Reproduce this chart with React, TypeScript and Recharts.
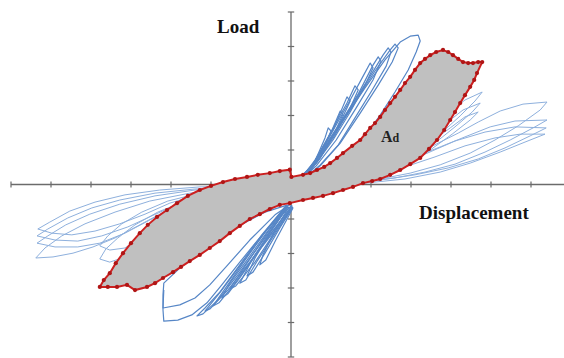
import { ComposedChart, Polygon, ReferenceLine, Scatter, XAxis, YAxis } from "recharts";

type Pt = [number, number];

// axis units: 1 x-tick = 1, 1 y-tick = 1
const xTicks = [-7, -6, -5, -4, -3, -2, -1, 1, 2, 3, 4, 5, 6];
const yTicks = [-5, -4, -3, -2, -1, 1, 2, 3, 4, 5];

// steep loops, upper right
const steepPos1: Pt[] = [[0.15, 0.13], [0.48, 0.48], [0.85, 1.06], [1.35, 1.93], [1.85, 2.8], [2.35, 3.61], [2.73, 4.13], [2.98, 4.3], [3.18, 4.33], [3.23, 4.16], [3.13, 3.84], [2.93, 3.32], [2.6, 2.68], [2.23, 2.01], [1.78, 1.29], [1.35, 0.71], [0.98, 0.36], [0.6, 0.16], [0.23, 0.07]];
const steepPos2: Pt[] = [[0.18, 0.13], [0.53, 0.57], [0.98, 1.35], [1.48, 2.22], [1.98, 3.14], [2.3, 3.75], [2.43, 3.96], [2.5, 3.84], [2.38, 3.43], [2.03, 2.74], [1.6, 1.93], [1.18, 1.14], [0.73, 0.57], [0.35, 0.19]];
const steepPos3: Pt[] = [[0.2, 0.13], [0.58, 0.65], [1.03, 1.52], [1.48, 2.45], [1.83, 3.2], [1.98, 3.52], [2.05, 3.38], [1.85, 2.88], [1.48, 2.1], [1.05, 1.29], [0.63, 0.62], [0.28, 0.16]];
const steepPos4: Pt[] = [[0.23, 0.13], [0.6, 0.71], [1.03, 1.58], [1.4, 2.36], [1.6, 2.86], [1.68, 2.74], [1.48, 2.22], [1.1, 1.43], [0.68, 0.71], [0.3, 0.16]];
const steepPos5: Pt[] = [[0.25, 0.1], [0.6, 0.65], [0.98, 1.46], [1.23, 2.13], [1.3, 2.04], [1.1, 1.52], [0.73, 0.77], [0.35, 0.19]];
const steepPos6: Pt[] = [[0.28, 0.1], [0.58, 0.62], [0.85, 1.35], [0.93, 1.64], [1.0, 1.55], [0.85, 1.14], [0.55, 0.57], [0.33, 0.16]];
const steepPos7: Pt[] = [[0.18, 0.1], [0.6, 0.62], [1.1, 1.49], [1.6, 2.39], [2.1, 3.29], [2.48, 3.9], [2.6, 4.07], [2.68, 3.96], [2.53, 3.55], [2.18, 2.88], [1.73, 2.07], [1.23, 1.2], [0.73, 0.54], [0.3, 0.16]];
const steepPos8: Pt[] = [[0.2, 0.1], [0.68, 0.77], [1.18, 1.67], [1.68, 2.62], [2.05, 3.46], [2.18, 3.7], [2.25, 3.58], [2.05, 3.03], [1.63, 2.22], [1.13, 1.29], [0.63, 0.54], [0.25, 0.13]];
const steepPos9: Pt[] = [[0.23, 0.1], [0.63, 0.71], [1.05, 1.58], [1.4, 2.54], [1.48, 2.42], [1.18, 1.67], [0.73, 0.77], [0.3, 0.16]];

// steep loops, lower left
const steepNeg1: Pt[] = [[-0.08, -0.59], [-0.4, -1.03], [-0.83, -1.61], [-1.28, -2.25], [-1.73, -2.91], [-2.1, -3.43], [-2.48, -3.78], [-2.83, -3.93], [-3.18, -3.96], [-3.2, -3.64], [-3.2, -3.2], [-3.18, -2.86], [-2.78, -2.42], [-2.15, -1.84], [-1.4, -1.26], [-0.65, -0.8], [-0.08, -0.59]];
const steepNeg2: Pt[] = [[-3.18, -3.06], [-3.2, -3.58], [-2.78, -3.49], [-2.4, -3.29], [-2.03, -2.91], [-1.58, -2.33], [-1.03, -1.61], [-0.4, -0.88], [-0.03, -0.59]];
const steepNeg3: Pt[] = [[-0.15, -0.65], [-0.73, -1.46], [-1.28, -2.33], [-1.78, -3.12], [-2.15, -3.58], [-2.35, -3.81], [-2.2, -3.75], [-1.83, -3.35], [-1.33, -2.62], [-0.78, -1.75], [-0.23, -0.88], [0.03, -0.59]];
const steepNeg4: Pt[] = [[-0.13, -0.65], [-0.65, -1.38], [-1.15, -2.19], [-1.58, -2.91], [-1.95, -3.52], [-1.8, -3.43], [-1.43, -2.91], [-0.98, -2.19], [-0.48, -1.38], [0.03, -0.62]];
const steepNeg5: Pt[] = [[-0.1, -0.65], [-0.58, -1.38], [-1.08, -2.25], [-1.53, -3.03], [-1.38, -2.94], [-0.9, -2.25], [-0.43, -1.43], [0.03, -0.65]];
const steepNeg6: Pt[] = [[-0.08, -0.65], [-0.53, -1.41], [-0.9, -2.13], [-1.1, -2.65], [-0.95, -2.54], [-0.65, -1.99], [-0.28, -1.26], [0.05, -0.65]];
const steepNeg7: Pt[] = [[-0.05, -0.65], [-0.4, -1.32], [-0.7, -2.04], [-0.78, -2.33], [-0.63, -2.19], [-0.38, -1.61], [0.05, -0.68]];
const steepNeg8: Pt[] = [[-0.13, -0.62], [-0.68, -1.43], [-1.23, -2.28], [-1.73, -3.06], [-2.15, -3.67], [-2.03, -3.61], [-1.58, -3.06], [-1.03, -2.25], [-0.5, -1.43], [0, -0.65]];
const steepNeg9: Pt[] = [[-0.1, -0.62], [-0.6, -1.38], [-1.1, -2.19], [-1.53, -2.86], [-1.73, -3.29], [-1.58, -3.17], [-1.28, -2.71], [-0.83, -1.96], [-0.35, -1.26], [0.03, -0.65]];
const steepNeg10: Pt[] = [[-0.08, -0.65], [-0.53, -1.38], [-0.95, -2.13], [-1.28, -2.86], [-1.13, -2.77], [-0.83, -2.19], [-0.4, -1.43], [0.03, -0.68]];

// wide loops, upper right
const widePos1: Pt[] = [[0.23, 0.04], [0.98, 0.07], [1.73, 0.25], [2.48, 0.54], [3.1, 0.86], [3.68, 1.2], [4.18, 1.49], [4.68, 1.81], [5.23, 2.13], [5.8, 2.33], [6.4, 2.39], [6.23, 2.16], [5.68, 1.7], [5.1, 1.29], [4.48, 0.91], [3.73, 0.57], [2.98, 0.33], [2.23, 0.16], [1.48, 0.04], [0.73, 0.01]];
const widePos2: Pt[] = [[0.48, 0.04], [1.48, 0.19], [2.35, 0.48], [3.1, 0.8], [3.73, 1.09], [4.35, 1.38], [4.98, 1.67], [5.6, 1.84], [6.4, 1.87], [6.1, 1.67], [5.48, 1.29], [4.85, 0.94], [4.1, 0.59], [3.35, 0.36], [2.6, 0.19], [1.73, 0.07], [0.98, 0.01]];
const widePos3: Pt[] = [[0.73, 0.04], [1.73, 0.22], [2.6, 0.54], [3.35, 0.88], [4.1, 1.26], [4.85, 1.52], [5.6, 1.67], [6.38, 1.64], [5.98, 1.41], [5.35, 1.06], [4.68, 0.74], [3.93, 0.48], [3.1, 0.28], [2.23, 0.13], [1.23, 0.01]];
const widePos4: Pt[] = [[0.98, 0.04], [1.98, 0.22], [2.85, 0.51], [3.6, 0.8], [4.35, 1.12], [5.1, 1.35], [5.73, 1.46], [6.35, 1.46], [5.85, 1.23], [5.23, 0.94], [4.48, 0.62], [3.73, 0.36], [2.85, 0.16], [1.85, 0.04]];
const widePos5: Pt[] = [[0.48, 0.07], [1.23, 0.25], [1.98, 0.59], [2.73, 1.06], [3.35, 1.58], [3.93, 2.07], [4.35, 2.45], [4.78, 2.68], [4.6, 2.42], [4.23, 1.99], [3.73, 1.46], [3.18, 1.0], [2.6, 0.62], [1.98, 0.33], [1.23, 0.1]];
const widePos6: Pt[] = [[0.73, 0.07], [1.6, 0.3], [2.48, 0.71], [3.23, 1.23], [3.85, 1.75], [4.3, 2.16], [4.73, 2.36], [4.53, 2.1], [4.1, 1.67], [3.53, 1.14], [2.85, 0.68], [2.1, 0.3], [1.23, 0.07]];
const widePos7: Pt[] = [[0.98, 0.04], [1.85, 0.28], [2.73, 0.71], [3.43, 1.17], [3.98, 1.64], [4.35, 1.96], [4.68, 2.1], [4.48, 1.87], [4.03, 1.46], [3.48, 1.0], [2.78, 0.57], [1.98, 0.22], [1.35, 0.04]];

// wide loops, lower left
const wideNeg1: Pt[] = [[-1.4, -0.1], [-2.15, -0.25], [-2.78, -0.51], [-3.28, -0.86], [-3.83, -1.2], [-4.4, -1.55], [-4.95, -1.81], [-5.45, -1.99], [-5.95, -2.1], [-6.38, -2.13], [-6.15, -1.84], [-5.73, -1.49], [-5.15, -1.14], [-4.4, -0.8], [-3.53, -0.48], [-2.53, -0.25], [-1.53, -0.1], [-0.53, -0.04]];
const wideNeg2: Pt[] = [[-1.28, -0.1], [-2.28, -0.28], [-3.03, -0.54], [-3.65, -0.86], [-4.28, -1.14], [-4.9, -1.35], [-5.48, -1.46], [-5.98, -1.41], [-6.33, -1.29], [-6.03, -1.09], [-5.53, -0.77], [-4.9, -0.51], [-4.15, -0.3], [-3.28, -0.16], [-2.28, -0.07], [-1.03, -0.04]];
const wideNeg3: Pt[] = [[-1.03, -0.1], [-2.03, -0.28], [-2.83, -0.57], [-3.48, -0.91], [-4.08, -1.23], [-4.73, -1.49], [-5.33, -1.64], [-5.9, -1.61], [-6.35, -1.49], [-6.08, -1.29], [-5.58, -0.97], [-4.98, -0.68], [-4.28, -0.45], [-3.4, -0.25], [-2.4, -0.13], [-1.28, -0.07]];
const wideNeg4: Pt[] = [[-1.15, -0.13], [-2.15, -0.33], [-2.9, -0.65], [-3.53, -1.03], [-4.15, -1.41], [-4.78, -1.7], [-5.33, -1.81], [-5.9, -1.81], [-6.35, -1.7], [-6.08, -1.49], [-5.63, -1.17], [-5.03, -0.86], [-4.28, -0.57], [-3.4, -0.33], [-2.4, -0.16], [-1.28, -0.07]];
const wideNeg5: Pt[] = [[-0.78, -0.1], [-1.9, -0.33], [-2.65, -0.68], [-3.28, -1.14], [-3.78, -1.55], [-4.15, -1.84], [-4.53, -1.9], [-4.78, -1.78], [-4.58, -1.49], [-4.23, -1.14], [-3.73, -0.8], [-3.08, -0.48], [-2.28, -0.25], [-1.28, -0.1], [-0.28, -0.04]];
const wideNeg6: Pt[] = [[-0.4, -0.13], [-1.53, -0.36], [-2.4, -0.74], [-3.15, -1.26], [-3.78, -1.75], [-4.23, -2.13], [-4.53, -2.25], [-4.78, -2.16], [-4.63, -1.87], [-4.33, -1.55], [-3.9, -1.17], [-3.33, -0.8], [-2.65, -0.48], [-1.78, -0.25], [-0.65, -0.1]];

// dissipated energy envelope (A_d)
const envelope: Pt[] = [
  [-4.78, -2.97], [-4.68, -2.77], [-4.53, -2.57], [-4.38, -2.28], [-4.2, -1.99], [-4.0, -1.7], [-3.78, -1.41], [-3.58, -1.17], [-3.35, -0.94], [-3.1, -0.74], [-2.85, -0.54], [-2.58, -0.33], [-2.28, -0.16], [-2.0, -0.04], [-1.7, 0.07], [-1.4, 0.16], [-1.1, 0.22], [-0.83, 0.28], [-0.53, 0.33], [-0.28, 0.39], [-0.03, 0.43],
  [0.01, 0.22], [0.3, 0.28], [0.48, 0.33], [0.65, 0.42], [0.83, 0.51], [0.98, 0.62], [1.15, 0.77], [1.3, 0.91], [1.53, 1.12], [1.73, 1.29], [1.85, 1.46], [1.98, 1.64], [2.1, 1.78], [2.23, 1.96], [2.35, 2.16], [2.48, 2.36], [2.6, 2.54], [2.73, 2.74], [2.85, 2.94], [2.98, 3.12], [3.1, 3.32], [3.23, 3.52], [3.35, 3.64], [3.48, 3.75], [3.63, 3.84], [3.8, 3.9], [3.93, 3.84], [4.05, 3.75], [4.18, 3.64], [4.3, 3.55], [4.43, 3.52], [4.55, 3.52], [4.68, 3.55], [4.78, 3.55],
  [4.65, 3.23], [4.58, 3.03], [4.48, 2.83], [4.35, 2.59], [4.23, 2.36], [4.1, 2.1], [3.98, 1.87], [3.83, 1.58], [3.65, 1.29], [3.45, 1.03], [3.23, 0.77], [2.98, 0.59], [2.73, 0.42], [2.48, 0.28], [2.23, 0.16], [2.03, 0.1], [1.8, 0.04], [1.55, -0.07], [1.3, -0.16], [1.05, -0.25], [0.8, -0.33], [0.55, -0.39], [0.3, -0.45], [-0.03, -0.54],
  [-0.28, -0.59], [-0.53, -0.71], [-0.78, -0.86], [-1.03, -1.0], [-1.28, -1.2], [-1.53, -1.41], [-1.78, -1.64], [-2.03, -1.84], [-2.28, -2.04], [-2.53, -2.22], [-2.75, -2.39], [-2.95, -2.54], [-3.2, -2.71], [-3.4, -2.86], [-3.6, -2.97], [-3.9, -3.06], [-4.1, -2.91], [-4.35, -2.97], [-4.58, -2.97],
];

const steepLoops = [steepPos1, steepPos2, steepPos3, steepPos4, steepPos5, steepPos6, steepPos7, steepPos8, steepPos9, steepNeg1, steepNeg2, steepNeg3, steepNeg4, steepNeg5, steepNeg6, steepNeg7, steepNeg8, steepNeg9, steepNeg10];
const wideLoops = [widePos1, widePos2, widePos3, widePos4, widePos5, widePos6, widePos7, wideNeg1, wideNeg2, wideNeg3, wideNeg4, wideNeg5, wideNeg6];

const rows = (pts: Pt[]) => pts.map(([x, y]) => ({ x, y }));

const AXIS = "#6b6b6b";
const SERIF = "'Liberation Serif', 'Times New Roman', serif";

export default function App() {
  return (
    <div style={{ position: "absolute", left: 0, top: 0, width: 564, height: 358, background: "#fff", overflow: "hidden" }}>
      <ComposedChart width={564} height={358} margin={{ top: 12, right: 0, bottom: 1, left: 11 }}>
        <XAxis type="number" dataKey="x" domain={[-7, 6.825]} allowDataOverflow hide />
        <YAxis type="number" dataKey="y" domain={[-5, 5]} allowDataOverflow hide />
        <ReferenceLine y={0} stroke={AXIS} strokeWidth={1.3} />
        <ReferenceLine x={0} stroke={AXIS} strokeWidth={1.3} />
        {xTicks.map((t) => (
          <ReferenceLine key={"xt" + t} segment={[{ x: t, y: -0.09 }, { x: t, y: 0.09 }]} stroke={AXIS} strokeWidth={1.2} />
        ))}
        {yTicks.map((t) => (
          <ReferenceLine key={"yt" + t} segment={[{ x: -0.08, y: t }, { x: 0.08, y: t }]} stroke={AXIS} strokeWidth={1.2} />
        ))}
        {wideLoops.map((pts, i) => (
          <Scatter key={"w" + i} data={rows(pts)} line={{ stroke: "#8eb0dd", strokeWidth: 1 }} lineJointType="linear" shape={() => <g />} isAnimationActive={false} />
        ))}
        {steepLoops.map((pts, i) => (
          <Scatter key={"s" + i} data={rows(pts)} line={{ stroke: "#5686c6", strokeWidth: 1.2, strokeLinejoin: "round" }} lineJointType="linear" shape={() => <g />} isAnimationActive={false} />
        ))}
        <Scatter
          data={rows(envelope)}
          line={(p: any) => <Polygon points={p.points} fill="#c0c0c0" stroke="#cc2020" strokeWidth={2} />}
          shape={(p: any) => <circle cx={p.cx} cy={p.cy} r={2.1} fill="#b01515" />}
          isAnimationActive={false}
        />
      </ComposedChart>
      <svg width={564} height={358} style={{ position: "absolute", left: 0, top: 0, pointerEvents: "none" }}>
        <text x={217} y={33} fontFamily={SERIF} fontWeight="bold" fontSize={19} fill="#111">Load</text>
        <text x={419} y={219} fontFamily={SERIF} fontWeight="bold" fontSize={19} fill="#111">Displacement</text>
        <text x={381} y={142} fontFamily={SERIF} fontWeight="bold" fontSize={16} fill="#222">
          A<tspan fontSize={12}>d</tspan>
        </text>
      </svg>
    </div>
  );
}
